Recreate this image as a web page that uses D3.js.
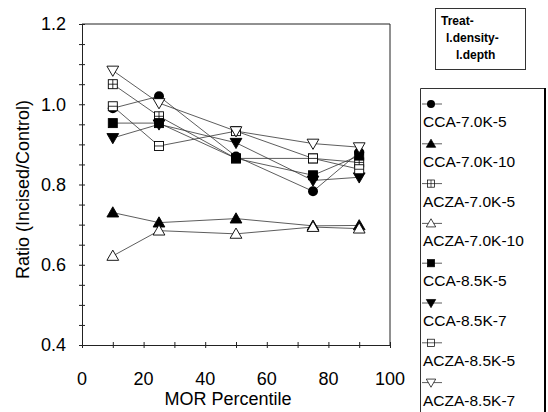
<!DOCTYPE html>
<html>
<head>
<meta charset="utf-8">
<script src="https://cdn.jsdelivr.net/npm/d3@7"></script>
<style>
  body { margin: 0; background: #fff; }
  svg { font-family: "Liberation Sans", Arial, sans-serif; }
</style>
</head>
<body>
<svg width="548" height="412"></svg>
<script>
// data
let percentiles = [10, 25, 50, 75, 90];
let seriesNames = ["CCA-7.0K-5", "CCA-7.0K-10", "ACZA-7.0K-5", "ACZA-7.0K-10",
                   "CCA-8.5K-5", "CCA-8.5K-7", "ACZA-8.5K-5", "ACZA-8.5K-7"];
let cca70k5   = [0.99, 1.02, 0.87, 0.783, 0.88];
let cca70k10  = [0.73, 0.705, 0.715, 0.697, 0.698];
let acza70k5  = [1.05, 0.97, 0.865, 0.865, 0.855];
let acza70k10 = [0.622, 0.685, 0.677, 0.694, 0.69];
let cca85k5   = [0.953, 0.953, 0.865, 0.823, 0.872];
let cca85k7   = [0.916, 0.95, 0.904, 0.81, 0.818];
let acza85k5  = [0.995, 0.896, 0.933, 0.865, 0.838];
let acza85k7  = [1.084, 1.003, 0.933, 0.902, 0.893];
let seriesValues = [cca70k5, cca70k10, acza70k5, acza70k10, cca85k5, cca85k7, acza85k5, acza85k7];
// marker style per series: shape + fill
let markers = ["circle", "triangle", "squarePlus", "triangleOpen",
               "square", "triangleDown", "squareLine", "triangleDownOpen"];
let xTicks = [0, 20, 40, 60, 80, 100];
let yTicks = [0.4, 0.6, 0.8, 1.0, 1.2];
let legendTitle = ["Treat-", "l.density-", "l.depth"];

let svg = d3.select("svg");
let margin = {left: 82, top: 24};
let plotWidth = 308, plotHeight = 321;

let x = d3.scaleLinear().domain([0, 100]).range([0, plotWidth]);
let y = d3.scaleLinear().domain([0.4, 1.2]).range([plotHeight, 0]);

let plot = svg.append("g").attr("transform", "translate(" + margin.left + "," + margin.top + ")");

// frame (top + right)
plot.append("path")
  .attr("d", "M0,0H" + plotWidth + "V" + plotHeight)
  .attr("fill", "none").attr("stroke", "#222").attr("stroke-width", 1);

// x axis, ticks every 10 crossing the line
let xAxis = d3.axisBottom(x).tickValues(d3.range(0, 101, 10)).tickSizeInner(6).tickSizeOuter(0).tickFormat("");
let xGroup = plot.append("g").attr("transform", "translate(0," + plotHeight + ")").call(xAxis);
xGroup.selectAll(".tick line").attr("y1", -3).attr("y2", 3);
plot.append("g").attr("transform", "translate(0," + plotHeight + ")")
  .selectAll("text").data(xTicks).join("text")
  .attr("x", d => x(d)).attr("y", 40)
  .attr("text-anchor", "middle").attr("font-size", 18).text(d => d);

// y axis, major ticks 0.2, minor ticks 0.05
let yAxis = d3.axisLeft(y).tickValues(d3.range(0, 17).map(i => 0.4 + i * 0.05)).tickSizeOuter(0).tickFormat("");
let yGroup = plot.append("g").call(yAxis);
yGroup.selectAll(".tick line").attr("x1", -3).attr("x2", 3);
plot.append("g").selectAll("text").data(yTicks).join("text")
  .attr("x", -16).attr("y", d => y(d)).attr("dy", "0.36em")
  .attr("text-anchor", "end").attr("font-size", 18).text(d => d.toFixed(1));
svg.selectAll(".domain").attr("stroke", "#222");
svg.selectAll(".tick line").attr("stroke", "#222");

// axis titles
svg.append("text").attr("x", margin.left + plotWidth / 2 - 8).attr("y", 405)
  .attr("text-anchor", "middle").attr("font-size", 18).text("MOR Percentile");
svg.append("text").attr("transform", "translate(29," + (margin.top + plotHeight / 2 + 5) + ") rotate(-90)")
  .attr("text-anchor", "middle").attr("font-size", 18).text("Ratio (Incised/Control)");

// marker drawing
function drawMarker(g, kind) {
  let sym = d3.symbol();
  if (kind === "circle") {
    g.append("circle").attr("r", 5).attr("fill", "#000");
  } else if (kind === "triangle" || kind === "triangleOpen") {
    g.append("path").attr("d", sym.type(d3.symbolTriangle).size(60)())
      .attr("transform", "translate(0,1)")
      .attr("fill", kind === "triangle" ? "#000" : "#fff")
      .attr("stroke", "#000").attr("stroke-width", 0.9);
  } else if (kind === "triangleDown" || kind === "triangleDownOpen") {
    g.append("path").attr("d", sym.type(d3.symbolTriangle).size(60)())
      .attr("transform", "translate(0,-1) rotate(180)")
      .attr("fill", kind === "triangleDown" ? "#000" : "#fff")
      .attr("stroke", "#000").attr("stroke-width", 0.9);
  } else {
    g.append("rect").attr("x", -4.5).attr("y", -4.5).attr("width", 9).attr("height", 9)
      .attr("fill", kind === "square" ? "#000" : "#fff")
      .attr("stroke", "#000").attr("stroke-width", 0.9);
    if (kind === "squarePlus") {
      g.append("path").attr("d", "M-4.5,0H4.5M0,-4.5V4.5").attr("stroke", "#000").attr("stroke-width", 0.8);
    } else if (kind === "squareLine") {
      g.append("path").attr("d", "M-4.5,0H4.5").attr("stroke", "#000").attr("stroke-width", 0.8);
    }
  }
}

let line = d3.line().x(d => x(d[0])).y(d => y(d[1]));

seriesValues.forEach(function(vals, i) {
  let pts = percentiles.map((p, j) => [p, vals[j]]);
  plot.append("path").datum(pts).attr("d", line)
    .attr("fill", "none").attr("stroke", "#333").attr("stroke-width", 0.8);
});
seriesValues.forEach(function(vals, i) {
  percentiles.forEach(function(p, j) {
    let g = plot.append("g").attr("transform", "translate(" + x(p) + "," + y(vals[j]) + ")");
    drawMarker(g, markers[i]);
  });
});

// legend title box
svg.append("rect").attr("x", 435.5).attr("y", 8.5).attr("width", 90).attr("height", 61)
  .attr("fill", "#fff").attr("stroke", "#333").attr("stroke-width", 1);
let titleX = [441, 446, 456];
svg.append("g").selectAll("text").data(legendTitle).join("text")
  .attr("x", (d, i) => titleX[i]).attr("y", (d, i) => 25 + i * 17)
  .attr("font-size", 12).attr("font-weight", "bold").text(d => d);

// legend box
svg.append("path").attr("d", "M420.5,420V88.5H544.5V420")
  .attr("fill", "none").attr("stroke", "#333").attr("stroke-width", 1);
svg.append("line").attr("x1", 545).attr("x2", 545).attr("y1", 88).attr("y2", 412)
  .attr("stroke", "#000").attr("stroke-width", 2);

let legendStep = 39.8;
let leg = svg.append("g").selectAll("g").data(seriesNames).join("g")
  .attr("transform", (d, i) => "translate(0," + (104 + i * legendStep) + ")");
leg.append("line").attr("x1", 422).attr("x2", 442).attr("stroke", "#333").attr("stroke-width", 0.8);
leg.each(function(d, i) {
  let g = d3.select(this).append("g").attr("transform", "translate(431,0) scale(0.8)");
  drawMarker(g, markers[i]);
});
leg.append("text").attr("x", 423).attr("y", 23).attr("font-size", 15.5).text(d => d);
</script>
</body>
</html>
